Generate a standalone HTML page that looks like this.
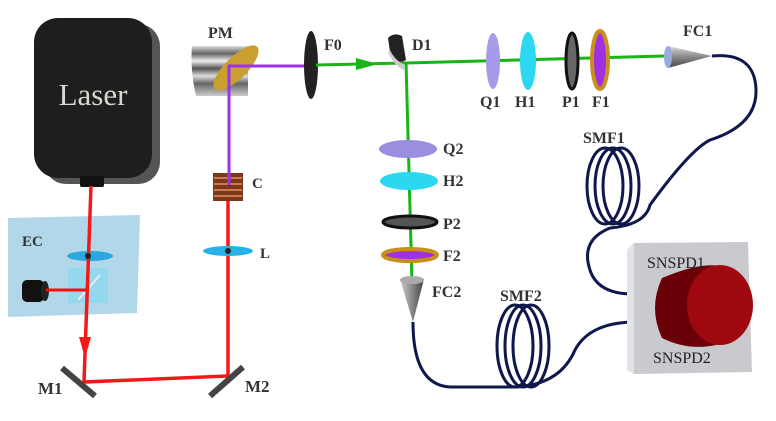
<!DOCTYPE html>
<html><head><meta charset="utf-8"><style>
html,body{margin:0;padding:0;background:#fff;}
svg{display:block;}
text{font-family:"Liberation Serif",serif;font-weight:bold;fill:#333;}
</style></head><body>
<svg width="776" height="421" viewBox="0 0 776 421" xmlns="http://www.w3.org/2000/svg">
<defs>
<linearGradient id="pm" x1="0" y1="0" x2="0" y2="1">
<stop offset="0" stop-color="#ddd"/><stop offset="0.15" stop-color="#666"/><stop offset="0.3" stop-color="#eee"/><stop offset="0.45" stop-color="#555"/><stop offset="0.6" stop-color="#ddd"/><stop offset="0.75" stop-color="#666"/><stop offset="1" stop-color="#ccc"/>
</linearGradient>
<linearGradient id="cone" x1="0" y1="0" x2="0" y2="1"><stop offset="0" stop-color="#ddd"/><stop offset="0.5" stop-color="#888"/><stop offset="1" stop-color="#444"/></linearGradient>
<linearGradient id="cone2" x1="0" y1="0" x2="1" y2="0"><stop offset="0" stop-color="#ccc"/><stop offset="0.5" stop-color="#888"/><stop offset="1" stop-color="#444"/></linearGradient>
</defs>

<!-- Laser -->
<rect x="44" y="24" width="116" height="160" rx="22" fill="#555"/>
<rect x="34" y="18" width="118" height="160" rx="24" fill="#1e1e1e"/>
<text x="93" y="105" font-size="31" text-anchor="middle" style="font-weight:normal;fill:#d8d8d0">Laser</text>
<rect x="80" y="176" width="24" height="11" rx="2" fill="#111"/>

<!-- EC panel -->
<polygon points="8,218 140,215 137,313 8,317" fill="#a8d3e6" opacity="0.9"/>
<text x="22" y="246" font-size="15">EC</text>
<ellipse cx="90" cy="256" rx="23" ry="5" fill="#2aa6e0"/>
<rect x="68" y="268" width="40" height="35" fill="#8fd8ef" opacity="0.85"/>
<line x1="78" y1="300" x2="100" y2="275" stroke="#eee" stroke-width="2"/>
<rect x="22" y="280" width="22" height="22" rx="5" fill="#111"/>
<ellipse cx="45" cy="291" rx="4" ry="10" fill="#222"/>
<line x1="46" y1="290" x2="88" y2="290" stroke="#f01010" stroke-width="3"/>

<!-- red beams -->
<polyline points="91,186 84,382 228,376 228,196" fill="none" stroke="#f41818" stroke-width="3.5"/>
<polygon points="79,337 91,337 85,358" fill="#f41818"/>
<ellipse cx="228" cy="251" rx="25" ry="5" fill="#28b0e8"/>
<circle cx="228" cy="251" r="3" fill="#222"/>
<circle cx="88" cy="256" r="3" fill="#222"/>
<!-- mirrors -->
<line x1="62" y1="368" x2="95" y2="396" stroke="#444" stroke-width="6"/>
<line x1="210" y1="396" x2="243" y2="367" stroke="#444" stroke-width="6"/>
<text x="38" y="394" font-size="17">M1</text>
<text x="245" y="392" font-size="17">M2</text>
<text x="260" y="258" font-size="15">L</text>

<!-- C crystal -->
<rect x="213" y="173" width="30" height="28" fill="#7a3a1a"/>
<g stroke="#e89060" stroke-width="1.5"><line x1="214" y1="178" x2="242" y2="178"/><line x1="214" y1="184" x2="242" y2="184"/><line x1="214" y1="190" x2="242" y2="190"/><line x1="214" y1="196" x2="242" y2="196"/></g>
<text x="252" y="188" font-size="15">C</text>

<!-- PM -->
<path d="M192,46 L248,46 L248,96 L196,96 Q190,70 192,46 Z" fill="url(#pm)"/>
<ellipse cx="236" cy="68" rx="11" ry="30" transform="rotate(45 236 68)" fill="#c9a030"/>
<text x="208" y="38" font-size="16">PM</text>

<!-- purple beam -->
<polyline points="229,185 229,66 310,66" fill="none" stroke="#9b30f0" stroke-width="3"/>

<!-- F0 -->
<ellipse cx="311" cy="65" rx="7" ry="34" fill="#222"/>
<text x="324" y="50" font-size="16">F0</text>

<!-- green beams -->
<polyline points="316,65 406,63 665,56" fill="none" stroke="#18b418" stroke-width="3"/>
<polygon points="356,58 378,64 356,70" fill="#18b418"/>
<line x1="406" y1="62" x2="412" y2="282" stroke="#18b418" stroke-width="3"/>

<!-- D1 -->
<path d="M388,38 Q394,32 402,36 L406,60 Q396,66 390,52 Z" fill="#222"/>
<path d="M390,50 Q396,62 404,64 L404,70 Q394,66 388,52 Z" fill="#ccc"/>
<text x="412" y="50" font-size="16">D1</text>

<!-- top optics -->
<ellipse cx="493" cy="61" rx="7" ry="28" fill="#a89ae8"/>
<ellipse cx="528" cy="61" rx="8" ry="29" fill="#2cd8f0"/>
<ellipse cx="572" cy="61" rx="6" ry="28" fill="#666" stroke="#111" stroke-width="3"/>
<ellipse cx="600" cy="60" rx="8" ry="29" fill="#a030e0" stroke="#c8901a" stroke-width="4"/>
<text x="480" y="107" font-size="16">Q1</text>
<text x="515" y="107" font-size="16">H1</text>
<text x="562" y="107" font-size="16">P1</text>
<text x="592" y="107" font-size="16">F1</text>

<!-- vertical optics -->
<ellipse cx="408" cy="149" rx="29" ry="9" fill="#9a8ee0"/>
<ellipse cx="409" cy="181" rx="29" ry="9" fill="#2cd8f0"/>
<ellipse cx="410" cy="222" rx="27" ry="6" fill="#555" stroke="#111" stroke-width="3"/>
<ellipse cx="410" cy="255" rx="27" ry="6" fill="#a030e0" stroke="#c8901a" stroke-width="4"/>
<text x="443" y="154" font-size="16">Q2</text>
<text x="443" y="186" font-size="16">H2</text>
<text x="443" y="229" font-size="16">P2</text>
<text x="443" y="261" font-size="16">F2</text>

<!-- FC1 -->
<polygon points="668,46 712,56 668,68" fill="url(#cone)"/>
<ellipse cx="668" cy="57" rx="4" ry="11" fill="#9ad"/>
<text x="683" y="36" font-size="16">FC1</text>
<!-- FC2 -->
<polygon points="400,279 424,279 413,322" fill="url(#cone2)"/>
<ellipse cx="412" cy="280" rx="12" ry="4" fill="#aaa"/>
<text x="432" y="297" font-size="16">FC2</text>

<!-- fibers -->
<g fill="none" stroke="#10174a" stroke-width="3">
<path d="M712,56 Q755,52 756,90 Q757,125 710,140 Q690,150 650,205 Q645,225 610,228 Q580,240 590,270 Q598,295 636,294"/>
<ellipse cx="605" cy="186" rx="18" ry="38"/>
<ellipse cx="613" cy="186" rx="18" ry="38"/>
<ellipse cx="621" cy="186" rx="18" ry="38"/>
<path d="M413,322 Q413,385 450,387 L515,387 Q560,385 575,350 Q590,322 636,322"/>
<ellipse cx="515" cy="346" rx="18" ry="41"/>
<ellipse cx="523" cy="346" rx="18" ry="41"/>
<ellipse cx="531" cy="346" rx="18" ry="41"/>
</g>
<text x="583" y="143" font-size="16">SMF1</text>
<text x="500" y="301" font-size="16">SMF2</text>

<!-- SNSPD -->
<polygon points="627,250 634,243 748,242 752,372 634,374 627,370" fill="#c8cacd"/>
<polygon points="627,250 634,243 634,374 627,370" fill="#e2e3e5"/>
<path d="M662,278 Q700,262 720,266 L720,344 Q690,352 662,338 Q648,308 662,278 Z" fill="#6a0008"/>
<ellipse cx="720" cy="305" rx="33" ry="40" fill="#a00810"/>
<text x="647" y="268" font-size="16" style="font-weight:normal;fill:#222">SNSPD1</text>
<text x="653" y="363" font-size="16" style="font-weight:normal;fill:#222">SNSPD2</text>
</svg>
</body></html>
